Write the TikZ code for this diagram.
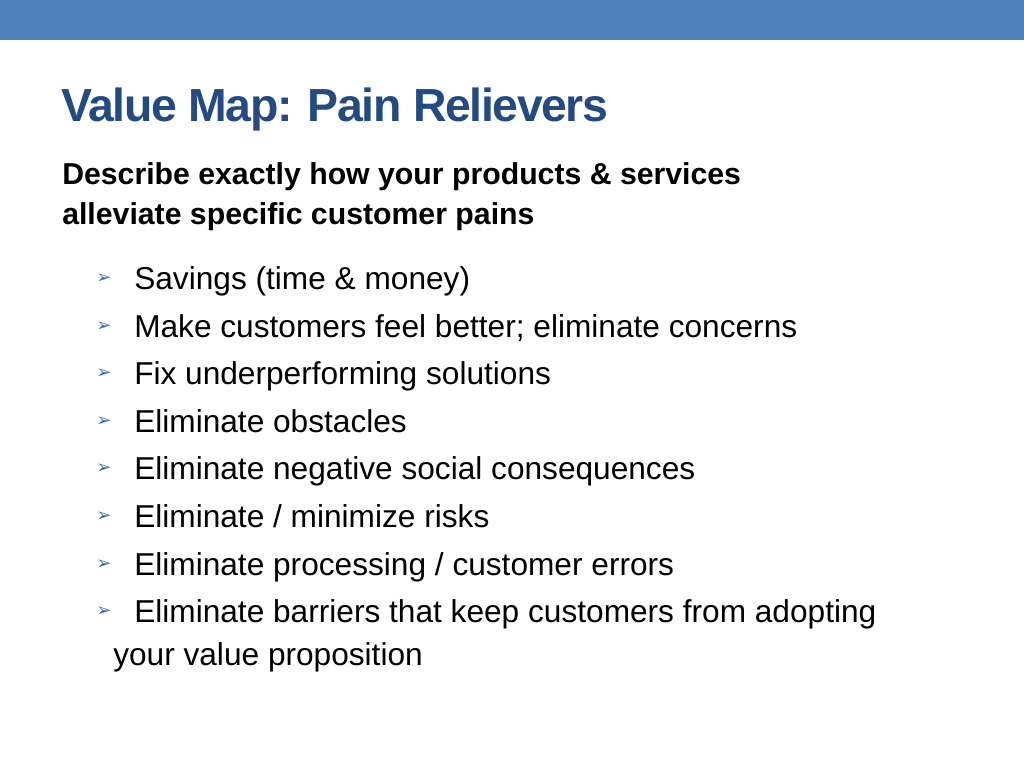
\documentclass[tikz,border=0pt]{standalone}
\usepackage{fontspec}
\setmainfont{Liberation Sans}
\newfontfamily\symfont{DejaVu Sans}
\definecolor{bandblue}{RGB}{79,129,189}
\definecolor{titleblue}{RGB}{35,75,130}
\definecolor{bulletblue}{RGB}{60,110,180}
\tikzset{
  txt/.style={anchor=base west, inner sep=0pt, font=\fontsize{22.5}{27}\selectfont},
  bul/.style={anchor=base west, inner sep=0pt, text=bulletblue, font=\symfont\fontsize{13}{15}\selectfont}
}
\begin{document}
\begin{tikzpicture}[x=0.025cm, y=-0.025cm]
  \useasboundingbox (0,0) rectangle (1024,768);
  \fill[bandblue] (0,0) rectangle (1024,40);
  % Title and subtitle
  \node[anchor=base west, inner sep=0pt, text=titleblue, font=\bfseries\fontsize{33}{38}\selectfont] (title) at (61,122) {\addfontfeature{LetterSpace=-3}Value Map: Pain Relievers};
  \node[anchor=base west, inner sep=0pt, font=\bfseries\fontsize{21.5}{27}\selectfont] (sub1) at (62,185) {Describe exactly how your products \& services};
  \node[anchor=base west, inner sep=0pt, font=\bfseries\fontsize{21.5}{27}\selectfont] (sub2) at (62,224) {alleviate specific customer pains};
  % Bullets
  \foreach \y/\t [count=\i] in {
      289/{Savings (time \& money)},
      337/{Make customers feel better; eliminate concerns},
      384/{Fix underperforming solutions},
      432/{Eliminate obstacles},
      479/{Eliminate negative social consequences},
      527/{Eliminate / minimize risks},
      575/{Eliminate processing / customer errors},
      622/{Eliminate barriers that keep customers from adopting}} {
    \node[bul] (b\i) at (96,\y-6) {➢};
    \node[txt] (item\i) at (134,\y) {\t};
  }
  \node[txt] (item9) at (113,665) {your value proposition};
\end{tikzpicture}
\end{document}
